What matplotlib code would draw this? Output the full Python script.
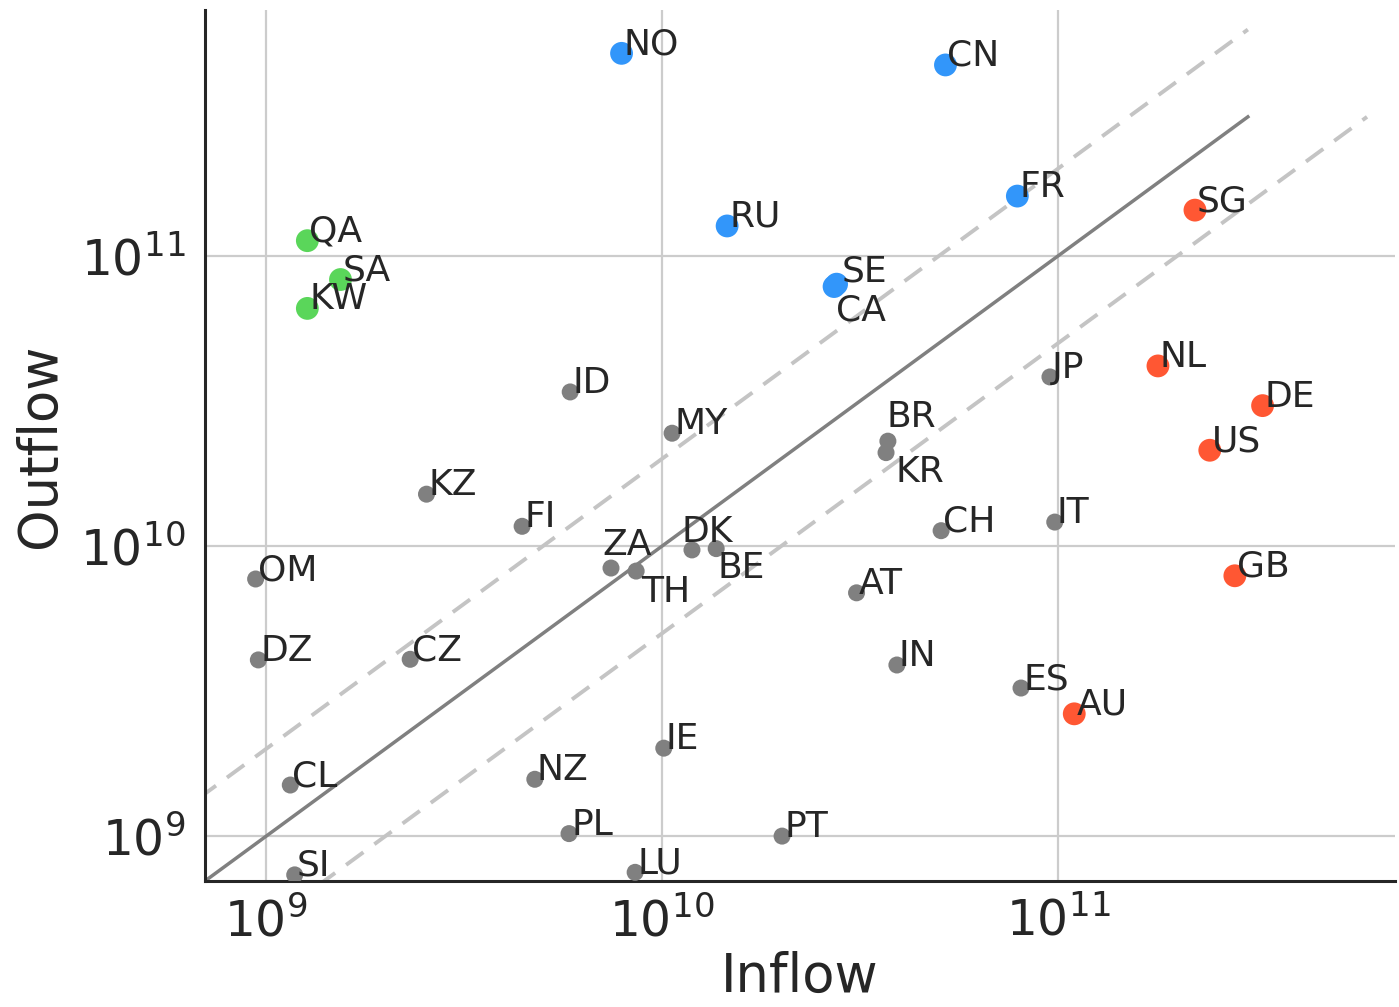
import numpy as np
import matplotlib
matplotlib.use("Agg")
import matplotlib.pyplot as plt

# country codes, inflow, outflow and group of each point
codes = ["QA", "SA", "KW",
         "NO", "CN", "FR", "RU", "SE", "CA",
         "SG", "NL", "DE", "US", "GB", "AU",
         "OM", "DZ", "CL", "SI", "KZ", "CZ", "ID", "FI", "ZA", "TH", "MY",
         "DK", "BE", "NZ", "PL", "LU", "IE", "PT", "AT", "BR", "KR", "CH",
         "IN", "ES", "JP", "IT"]
inflow = [1.27e9, 1.54e9, 1.27e9,
          7.9e9, 5.2e10, 7.9e10, 1.46e10, 2.76e10, 2.72e10,
          2.22e11, 1.79e11, 3.29e11, 2.42e11, 2.8e11, 1.1e11,
          9.4e8, 9.55e8, 1.15e9, 1.18e9, 2.54e9, 2.31e9, 5.86e9, 4.43e9, 7.43e9, 8.6e9, 1.06e10,
          1.19e10, 1.37e10, 4.77e9, 5.82e9, 8.55e9, 1.01e10, 2.01e10, 3.1e10, 3.72e10, 3.68e10, 5.07e10,
          3.92e10, 8.07e10, 9.55e10, 9.82e10]
outflow = [1.13e11, 8.3e10, 6.6e10,
           5.0e11, 4.56e11, 1.61e11, 1.27e11, 8.0e10, 7.85e10,
           1.44e11, 4.18e10, 3.05e10, 2.14e10, 7.9e9, 2.64e9,
           7.7e9, 4.05e9, 1.5e9, 7.35e8, 1.51e10, 4.07e9, 3.4e10, 1.17e10, 8.4e9, 8.2e9, 2.45e10,
           9.7e9, 9.8e9, 1.57e9, 1.02e9, 7.5e8, 2.01e9, 1.0e9, 6.9e9, 2.3e10, 2.1e10, 1.13e10,
           3.89e9, 3.24e9, 3.83e10, 1.21e10]
groups = ["gulf"] * 3 + ["out"] * 6 + ["in"] * 6 + ["other"] * 26

colors = {"gulf": "#5AD65A", "out": "#3296FA", "in": "#FF5733", "other": "#808080"}
sizes = {"gulf": 270, "out": 270, "in": 270, "other": 150}

# label nudges (pixels) for the crowded ones
nudge = {"SE": (5, 3), "CA": (2, -34), "BR": (-1, 14), "KR": (9, -29),
         "ZA": (-9, 13), "TH": (5, -31), "DK": (-10, 8), "BE": (1, -29)}

plt.rcParams["font.family"] = "DejaVu Sans"
dark = "#262626"

fig = plt.figure(figsize=(13.99, 10.07), dpi=100)
ax = fig.add_axes([0.1465, 0.1251, 0.8505, 0.8649])

lo, hi = 3.5e8, 3.02e11
t = np.array([lo, hi])
ax.plot(t, t, color="#808080", lw=2.5, zorder=2)
ax.plot(t, 2 * t, color="#C4C4C4", lw=2.8, ls=(0, (5.5, 3.5)), zorder=2)
ax.plot(2 * t, t, color="#C4C4C4", lw=2.8, ls=(0, (5.5, 3.5)), zorder=2)

for g in ["other", "gulf", "out", "in"]:
    xs = [x for x, gg in zip(inflow, groups) if gg == g]
    ys = [y for y, gg in zip(outflow, groups) if gg == g]
    ax.scatter(xs, ys, s=sizes[g], color=colors[g], edgecolors="none", zorder=3)

for c, x, y in zip(codes, inflow, outflow):
    dx, dy = nudge.get(c, (2, -1))
    ax.annotate(c, (x, y), xytext=(dx, dy), textcoords="offset pixels",
                ha="left", va="baseline", fontsize=26, color=dark, zorder=4)

ax.set_xscale("log")
ax.set_yscale("log")
ax.set_xlim(7e8, 7.1e11)
ax.set_ylim(7e8, 7.05e11)
ax.minorticks_off()
ax.grid(True, color="#CCCCCC", lw=1.6, zorder=0)
ax.set_axisbelow(True)
ax.tick_params(length=0, labelsize=35, colors=dark)
ax.tick_params(axis="x", pad=12)
ax.tick_params(axis="y", pad=14)
for side in ["top", "right"]:
    ax.spines[side].set_visible(False)
for side in ["left", "bottom"]:
    ax.spines[side].set_color(dark)
    ax.spines[side].set_linewidth(2.2)
ax.set_xlabel("Inflow", fontsize=38, color=dark, labelpad=3)
ax.set_ylabel("Outflow", fontsize=38, color=dark, labelpad=10)

fig.savefig("out.png", dpi=100)
